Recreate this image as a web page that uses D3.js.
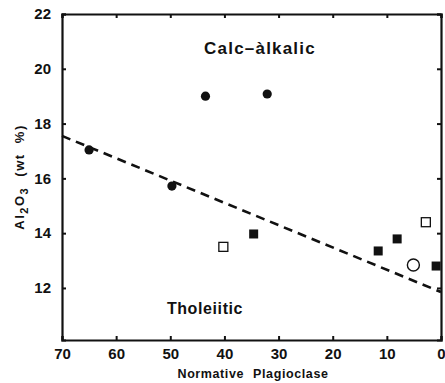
<!DOCTYPE html>
<html>
<head>
<meta charset="utf-8">
<script src="https://cdn.jsdelivr.net/npm/d3@7"></script>
<style>
  body { margin: 0; background: #fff; }
  text { font-family: "Liberation Sans", Arial, sans-serif; font-weight: bold; fill: #111; }
</style>
</head>
<body>
<svg id="chart" width="445" height="383"></svg>
<script>
// Data
var xTicks = [70, 60, 50, 40, 30, 20, 10, 0];
var yTicks = [12, 14, 16, 18, 20, 22];

var filledCircles = [[65, 17.04], [49.7, 15.72], [43.5, 19.0], [32.1, 19.08]];
var filledSquares = [[34.6, 13.97], [11.6, 13.35], [8.1, 13.79], [0.9, 12.8]];
var openSquares = [[40.2, 13.5], [2.8, 14.4]];
var openCircles = [[5.1, 12.84]];
var trendLine = [[70, 17.55], [0, 11.85]];

var svg = d3.select("#chart");

var x = d3.scaleLinear().domain([70, 0]).range([62, 441]);
var y = d3.scaleLinear().domain([10.1, 22]).range([340, 14]);

// frame with inward ticks
var axes = svg.append("g").attr("class", "axes");

axes.append("g")
	.attr("transform", "translate(0,340)")
	.call(d3.axisBottom(x).tickValues(xTicks).tickSize(-4).tickPadding(8).tickFormat(d3.format("d")));
axes.append("g")
	.attr("transform", "translate(0,14)")
	.call(d3.axisTop(x).tickValues(xTicks).tickSize(-4).tickFormat(""));
axes.append("g")
	.attr("transform", "translate(62,0)")
	.call(d3.axisLeft(y).tickValues(yTicks).tickSize(-4).tickPadding(11).tickFormat(d3.format("d")));
axes.append("g")
	.attr("transform", "translate(441,0)")
	.call(d3.axisRight(y).tickValues(yTicks).tickSize(-4).tickFormat(""));

axes.selectAll(".domain").attr("stroke", "#111").attr("stroke-width", 2.2);
axes.selectAll(".tick line").attr("stroke", "#111").attr("stroke-width", 2);
axes.selectAll(".tick text")
	.attr("font-size", "15px")
	.attr("font-family", "Liberation Sans, Arial, sans-serif")
	.attr("font-weight", "bold")
	.attr("fill", "#111");

// dashed trend line
svg.append("path")
	.datum(trendLine)
	.attr("d", d3.line().x(function(d){ return x(d[0]); }).y(function(d){ return y(d[1]); }))
	.attr("fill", "none")
	.attr("stroke", "#111")
	.attr("stroke-width", 2.6)
	.attr("stroke-dasharray", "9,6");

// points
svg.selectAll(".fc").data(filledCircles).enter().append("circle")
	.attr("cx", function(d){ return x(d[0]); })
	.attr("cy", function(d){ return y(d[1]); })
	.attr("r", 4.6)
	.attr("fill", "#111");

svg.selectAll(".oc").data(openCircles).enter().append("circle")
	.attr("cx", function(d){ return x(d[0]); })
	.attr("cy", function(d){ return y(d[1]); })
	.attr("r", 6)
	.attr("fill", "#fff")
	.attr("stroke", "#111")
	.attr("stroke-width", 1.4);

svg.selectAll(".fs").data(filledSquares).enter().append("rect")
	.attr("x", function(d){ return x(d[0]) - 4.5; })
	.attr("y", function(d){ return y(d[1]) - 4.5; })
	.attr("width", 9).attr("height", 9)
	.attr("fill", "#111");

svg.selectAll(".os").data(openSquares).enter().append("rect")
	.attr("x", function(d){ return x(d[0]) - 4.5; })
	.attr("y", function(d){ return y(d[1]) - 4.5; })
	.attr("width", 9).attr("height", 9)
	.attr("fill", "#fff")
	.attr("stroke", "#111")
	.attr("stroke-width", 1.3);

// region labels
svg.append("text")
	.attr("x", 260).attr("y", 54)
	.attr("text-anchor", "middle")
	.attr("font-size", "17px")
	.attr("letter-spacing", "1.2px")
	.text("Calc\u2013\u00e0lkalic");

svg.append("text")
	.attr("x", 205).attr("y", 314)
	.attr("text-anchor", "middle")
	.attr("font-size", "16px")
	.attr("letter-spacing", "0.6px")
	.text("Tholeiitic");

// axis titles
svg.append("text")
	.attr("x", 253).attr("y", 378)
	.attr("text-anchor", "middle")
	.attr("font-size", "12.5px")
	.attr("letter-spacing", "0.6px")
	.attr("word-spacing", "5px")
	.text("Normative Plagioclase");

var yl = svg.append("text")
	.attr("transform", "translate(24,177) rotate(-90)")
	.attr("text-anchor", "middle")
	.attr("font-size", "13px")
	.attr("letter-spacing", "1.5px");
yl.append("tspan").text("Al");
yl.append("tspan").attr("dy", 4).attr("font-size", "11px").text("2");
yl.append("tspan").attr("dy", -4).text("O");
yl.append("tspan").attr("dy", 4).attr("font-size", "11px").text("3");
yl.append("tspan").attr("dy", -4).attr("xml:space", "preserve").text("  (wt  %)");
</script>
</body>
</html>
